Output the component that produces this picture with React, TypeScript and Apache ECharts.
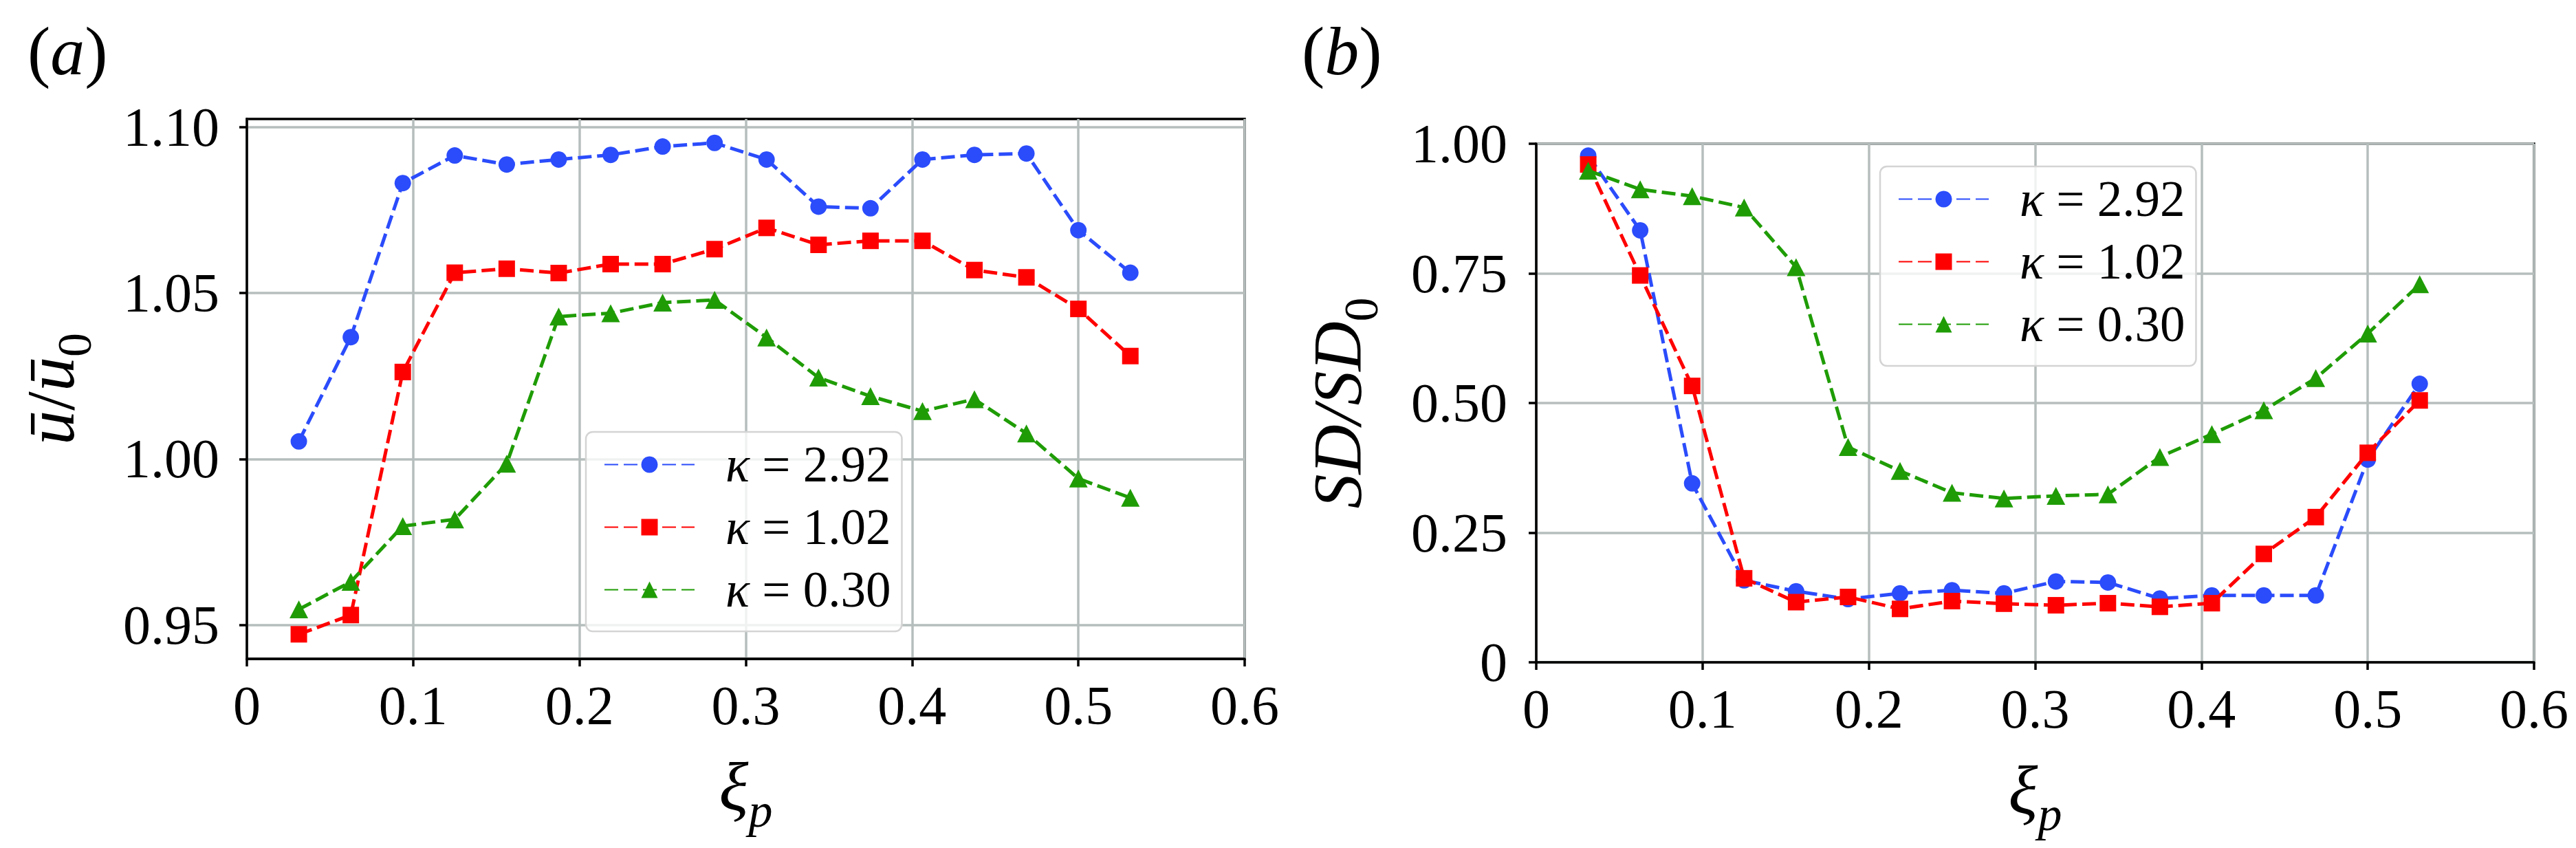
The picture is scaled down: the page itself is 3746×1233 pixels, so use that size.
import React, { useEffect, useRef } from 'react';
import * as echarts from 'echarts';

// ---------- data ----------
const xiP = [0.03125, 0.0625, 0.09375, 0.125, 0.15625, 0.1875, 0.21875, 0.25, 0.28125, 0.3125, 0.34375, 0.375, 0.40625, 0.4375, 0.46875, 0.5, 0.53125];
const seriesNames = ['κ = 2.92', 'κ = 1.02', 'κ = 0.30'];

// panel (a): mean velocity ratio
const uK292 = [1.0053, 1.0367, 1.0831, 1.0914, 1.0887, 1.0902, 1.0916, 1.0941, 1.0952, 1.0902, 1.0760, 1.0755, 1.0902, 1.0916, 1.0920, 1.0689, 1.0561];
const uK102 = [0.9472, 0.9530, 1.0262, 1.0561, 1.0573, 1.0560, 1.0587, 1.0587, 1.0632, 1.0696, 1.0645, 1.0657, 1.0657, 1.0569, 1.0547, 1.0452, 1.0310];
const uK030 = [0.9547, 0.9630, 0.9798, 0.9818, 0.9986, 1.0429, 1.0439, 1.0471, 1.0479, 1.0366, 1.0245, 1.0189, 1.0144, 1.0180, 1.0077, 0.9941, 0.9883];

// panel (b): SD ratio
const sdK292 = [0.977, 0.833, 0.345, 0.158, 0.137, 0.122, 0.133, 0.139, 0.133, 0.156, 0.154, 0.123, 0.129, 0.129, 0.129, 0.391, 0.537];
const sdK102 = [0.960, 0.746, 0.533, 0.162, 0.116, 0.126, 0.103, 0.118, 0.113, 0.110, 0.114, 0.107, 0.114, 0.209, 0.280, 0.404, 0.505];
const sdK030 = [0.948, 0.912, 0.899, 0.877, 0.762, 0.415, 0.369, 0.327, 0.316, 0.321, 0.324, 0.396, 0.440, 0.486, 0.548, 0.634, 0.729];

// ticks
const xTickValues = [0, 0.1, 0.2, 0.3, 0.4, 0.5, 0.6];
const xTickLabels = ['0', '0.1', '0.2', '0.3', '0.4', '0.5', '0.6'];
const uTickValues = [0.95, 1.0, 1.05, 1.1];
const uTickLabels = ['0.95', '1.00', '1.05', '1.10'];
const sdTickValues = [0, 0.25, 0.5, 0.75, 1.0];
const sdTickLabels = ['0', '0.25', '0.50', '0.75', '1.00'];

// ---------- style ----------
const FONT = 'Liberation Serif';
const COLORS = ['#2b4cfb', '#ff0000', '#1f9c05'];
const SYMBOLS = ['circle', 'rect', 'triangle'];
const SYMBOL_SIZES: any[] = [24, 24, [27, 26]];
const GRID_COLOR = '#b6bebd';
const TICK_FONT = 80;
const LEGEND_FONT = 73;

const lookup = (vals: number[], labels: string[]) => (v: number) => {
  const i = vals.findIndex((t) => Math.abs(t - v) < 1e-6);
  return i >= 0 ? labels[i] : '';
};

const nameRich = {
  m: { fontFamily: FONT, fontStyle: 'italic', fontSize: 100, padding: [0, 0, 20, 0], color: '#000' },
  n: { fontFamily: FONT, fontSize: 100, padding: [0, 0, 20, 0], color: '#000' },
  s: { fontFamily: FONT, fontStyle: 'italic', fontSize: 70, padding: [50, 0, 0, 0], color: '#000' },
  d: { fontFamily: FONT, fontSize: 70, padding: [50, 0, 0, 0], color: '#000' },
};

const tickLabelStyle = {
  fontFamily: FONT,
  fontSize: TICK_FONT,
  fontStyle: 'normal',
  fontWeight: 'normal',
  color: '#000',
};

function makeXAxis(gridIndex: number) {
  return {
    type: 'value',
    gridIndex,
    min: 0,
    max: 0.6,
    interval: 0.1,
    name: '{m|ξ}{s|p}',
    nameLocation: 'middle',
    nameGap: 135,
    nameTextStyle: { fontFamily: FONT, fontSize: 100, rich: nameRich },
    axisLine: { show: true, onZero: false, lineStyle: { color: '#000', width: 3.5 } },
    axisTick: { show: true, inside: false, length: 11, lineStyle: { color: '#000', width: 3.5 } },
    axisLabel: {
      ...tickLabelStyle,
      margin: 28,
      formatter: lookup(xTickValues, xTickLabels),
    },
    splitLine: { show: true, lineStyle: { color: GRID_COLOR, width: 3.5 } },
  };
}

function makeSeries(data: number[], k: number, axisIndex: number) {
  return {
    type: 'line',
    name: seriesNames[k],
    xAxisIndex: axisIndex,
    yAxisIndex: axisIndex,
    data: xiP.map((x, i) => [x, data[i]]),
    symbol: SYMBOLS[k],
    symbolSize: SYMBOL_SIZES[k],
    showSymbol: true,
    color: COLORS[k],
    itemStyle: { color: COLORS[k] },
    lineStyle: { color: COLORS[k], width: 5, type: [20, 8] },
    z: 3 + k,
  };
}

function makeLegend(left: number, top: number) {
  return {
    orient: 'vertical',
    left,
    top,
    data: seriesNames,
    itemWidth: 131,
    itemHeight: 30,
    itemGap: 18,
    padding: [11, 16, 24, 26],
    backgroundColor: 'rgba(255,255,255,0.8)',
    borderColor: '#d4d4d4',
    borderWidth: 2.5,
    borderRadius: 10,
    selectedMode: false,
    formatter: (name: string) => '{k|κ}{t| = ' + name.split(' = ')[1] + '}',
    textStyle: {
      fontFamily: FONT,
      fontSize: LEGEND_FONT,
      color: '#000',
      rich: {
        k: { fontFamily: FONT, fontStyle: 'italic', fontSize: LEGEND_FONT, color: '#000', padding: [0, 0, 0, 40] },
        t: { fontFamily: FONT, fontStyle: 'normal', fontSize: LEGEND_FONT, color: '#000' },
      },
    },
  };
}

function panelLetter(letter: string, left: number) {
  return {
    type: 'text',
    left,
    top: 16,
    style: {
      text: '({i|' + letter + '})',
      fontFamily: FONT,
      fontSize: 100,
      lineHeight: 80,
      fill: '#000',
      rich: { i: { fontFamily: FONT, fontStyle: 'italic', fontSize: 100, lineHeight: 80, fill: '#000' } },
    },
  };
}

export default function App() {
  const ref = useRef<HTMLDivElement>(null);

  useEffect(() => {
    if (!ref.current) return;
    const chart = echarts.init(ref.current, null, { renderer: 'svg' });
    const option: any = {
      animation: false,
      backgroundColor: '#fff',
      grid: [
        { left: 351, top: 165, width: 1451, height: 785, show: true, borderColor: '#000', borderWidth: 3.5, backgroundColor: 'transparent' },
        { left: 2226, top: 201, width: 1459, height: 754, show: true, borderColor: '#000', borderWidth: 3.5, backgroundColor: 'transparent' },
      ],
      xAxis: [makeXAxis(0), makeXAxis(1)],
      yAxis: [
        {
          type: 'value',
          gridIndex: 0,
          min: 0.9398,
          max: 1.1024,
          splitNumber: 3,
          name: '{m|ū}{n|/}{m|ū}{d|0}',
          nameLocation: 'middle',
          nameRotate: 90,
          nameGap: 216,
          nameTextStyle: { fontFamily: FONT, fontSize: 100, rich: nameRich },
          axisLine: { show: true, lineStyle: { color: '#000', width: 3.5 } },
          axisTick: { show: true, length: 11, customValues: uTickValues, lineStyle: { color: '#000', width: 3.5 } },
          axisLabel: {
            ...tickLabelStyle,
            margin: 40,
            customValues: uTickValues,
            formatter: lookup(uTickValues, uTickLabels),
          },
          splitLine: { show: true, lineStyle: { color: GRID_COLOR, width: 3.5 } },
        },
        {
          type: 'value',
          gridIndex: 1,
          min: 0,
          max: 1,
          interval: 0.25,
          name: '{m|SD/SD}{d|0}',
          nameLocation: 'middle',
          nameRotate: 90,
          nameGap: 220,
          nameTextStyle: { fontFamily: FONT, fontSize: 100, rich: nameRich },
          axisLine: { show: true, lineStyle: { color: '#000', width: 3.5 } },
          axisTick: { show: true, length: 11, lineStyle: { color: '#000', width: 3.5 } },
          axisLabel: {
            ...tickLabelStyle,
            margin: 42,
            formatter: lookup(sdTickValues, sdTickLabels),
          },
          splitLine: { show: true, lineStyle: { color: GRID_COLOR, width: 3.5 } },
        },
      ],
      legend: [makeLegend(844, 620), makeLegend(2726, 234)],
      graphic: [panelLetter('a', 32), panelLetter('b', 1885)],
      series: [
        makeSeries(uK292, 0, 0),
        makeSeries(uK102, 1, 0),
        makeSeries(uK030, 2, 0),
        makeSeries(sdK292, 0, 1),
        makeSeries(sdK102, 1, 1),
        makeSeries(sdK030, 2, 1),
      ],
    };
    chart.setOption(option);
    return () => chart.dispose();
  }, []);

  return <div ref={ref} style={{ width: 3730, height: 1217 }} />;
}
